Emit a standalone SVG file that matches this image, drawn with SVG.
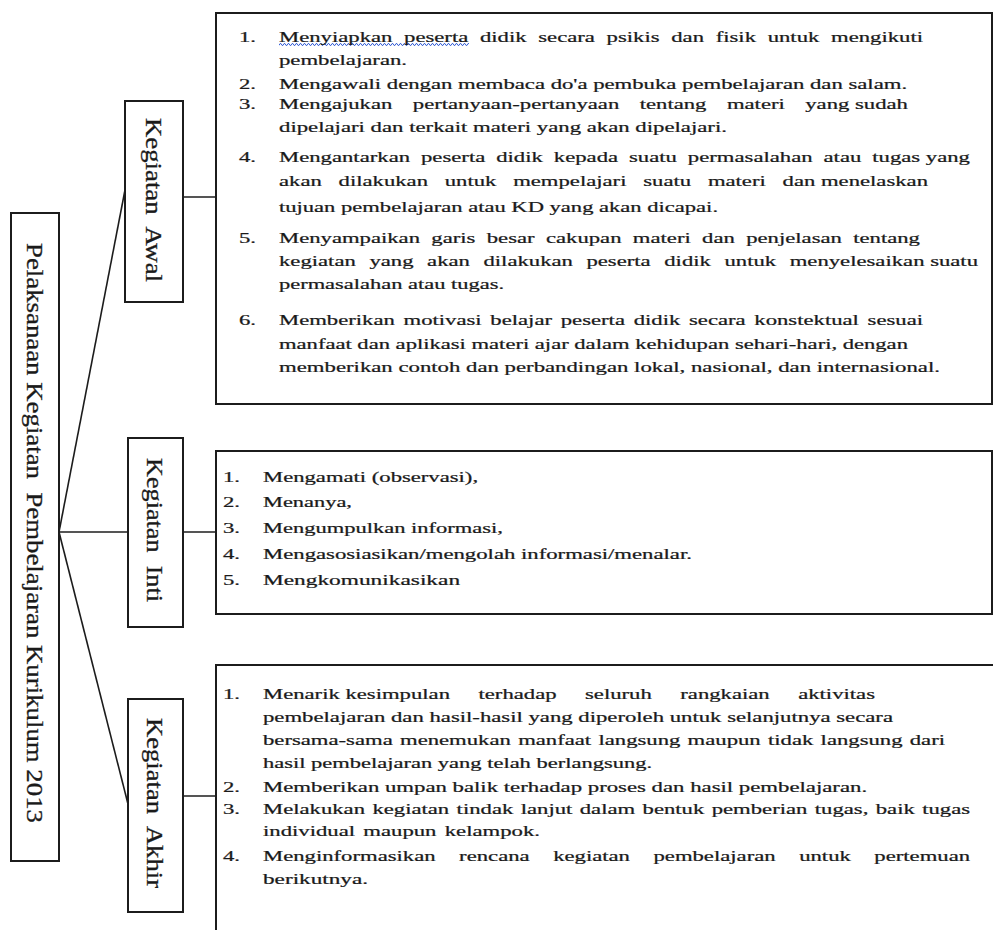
<svg xmlns="http://www.w3.org/2000/svg" width="993" height="930" viewBox="0 0 993 930">
<style>
.box{fill:#fff;stroke:#1c1c1c;stroke-width:2}
.ln{fill:none;stroke:#1c1c1c;stroke-width:1.6}
.t{font-family:"Liberation Serif","Times New Roman",serif;font-size:15.5px;fill:#1a1a1a;stroke:#1a1a1a;stroke-width:0.25}
.r{font-family:"Liberation Serif","Times New Roman",serif;font-size:24px;fill:#1a1a1a;stroke:#1a1a1a;stroke-width:0.3}
</style>
<defs>
<pattern id="wavy" x="279" y="43" width="4" height="3" patternUnits="userSpaceOnUse">
<path d="M0,2.4 L1,0.6 L2,0.6 L3,2.4 L4,2.4" fill="none" stroke="#3a62d6" stroke-width="1"/>
</pattern>
</defs>
<rect width="993" height="930" fill="#fff"/>

<g id="connectors">
<line class="ln" x1="59" y1="532" x2="125" y2="190"/>
<line class="ln" x1="59" y1="532" x2="128" y2="532"/>
<line class="ln" x1="59" y1="532" x2="128" y2="804"/>
<line class="ln" x1="183" y1="197" x2="216" y2="197"/>
<line class="ln" x1="183" y1="532" x2="216" y2="532"/>
<line class="ln" x1="183" y1="796" x2="216" y2="796"/>
</g>

<g id="node-main">
<rect class="box" x="11" y="213" width="48" height="648"/>
<text class="r" xml:space="preserve" transform="translate(27,533) rotate(90)" text-anchor="middle" textLength="580" lengthAdjust="spacingAndGlyphs">Pelaksanaan Kegiatan  Pembelajaran Kurikulum 2013</text>
</g>

<g id="node-awal">
<rect class="box" x="125" y="101" width="58" height="201"/>
<text class="r" xml:space="preserve" transform="translate(146,200) rotate(90)" text-anchor="middle" textLength="164" lengthAdjust="spacingAndGlyphs">Kegiatan  Awal</text>
</g>

<g id="node-inti">
<rect class="box" x="128" y="438" width="55" height="189"/>
<text class="r" xml:space="preserve" transform="translate(147,530) rotate(90)" text-anchor="middle" textLength="144" lengthAdjust="spacingAndGlyphs">Kegiatan  Inti</text>
</g>

<g id="node-akhir">
<rect class="box" x="128" y="699" width="55" height="213"/>
<text class="r" xml:space="preserve" transform="translate(147,803) rotate(90)" text-anchor="middle" textLength="170" lengthAdjust="spacingAndGlyphs">Kegiatan  Akhir</text>
</g>

<g id="node-awal-text">
<rect class="box" x="216" y="13" width="776" height="391"/>
<rect x="279" y="43" width="190" height="3" fill="url(#wavy)"/>
<text class="t" transform="matrix(1.463 0 0 1 239 42)">1.</text>
<text class="t" transform="matrix(1.463 0 0 1 279 42)" textLength="440.2" lengthAdjust="spacingAndGlyphs" style="word-spacing:4.1px">Menyiapkan peserta didik secara psikis dan fisik untuk mengikuti</text>
<text class="t" transform="matrix(1.463 0 0 1 279 65)" textLength="87.5" lengthAdjust="spacingAndGlyphs">pembelajaran.</text>
<text class="t" transform="matrix(1.463 0 0 1 239 89)">2.</text>
<text class="t" transform="matrix(1.463 0 0 1 279 89)" textLength="429.3" lengthAdjust="spacingAndGlyphs">Mengawali dengan membaca do'a pembuka pembelajaran dan salam.</text>
<text class="t" transform="matrix(1.463 0 0 1 239 109)">3.</text>
<text class="t" transform="matrix(1.463 0 0 1 279 109)" textLength="429.9" lengthAdjust="spacingAndGlyphs" style="word-spacing:10.1px">Mengajukan pertanyaan-pertanyaan tentang materi <tspan style="word-spacing:0">yang sudah</tspan></text>
<text class="t" transform="matrix(1.463 0 0 1 279 132)" textLength="306.2" lengthAdjust="spacingAndGlyphs">dipelajari dan terkait materi yang akan dipelajari.</text>
<text class="t" transform="matrix(1.463 0 0 1 239 162)">4.</text>
<text class="t" transform="matrix(1.463 0 0 1 279 162)" textLength="472.3" lengthAdjust="spacingAndGlyphs" style="word-spacing:3.6px">Mengantarkan peserta didik kepada suatu permasalahan atau <tspan style="word-spacing:0">tugas yang</tspan></text>
<text class="t" transform="matrix(1.463 0 0 1 279 186)" textLength="443.6" lengthAdjust="spacingAndGlyphs" style="word-spacing:7.6px">akan dilakukan untuk mempelajari suatu materi <tspan style="word-spacing:0">dan menelaskan</tspan></text>
<text class="t" transform="matrix(1.463 0 0 1 279 212)" textLength="300.1" lengthAdjust="spacingAndGlyphs">tujuan pembelajaran atau KD yang akan dicapai.</text>
<text class="t" transform="matrix(1.463 0 0 1 239 243)">5.</text>
<text class="t" transform="matrix(1.463 0 0 1 279 243)" textLength="438.1" lengthAdjust="spacingAndGlyphs" style="word-spacing:3.9px">Menyampaikan garis besar cakupan materi dan penjelasan tentang</text>
<text class="t" transform="matrix(1.463 0 0 1 279 266)" textLength="477.8" lengthAdjust="spacingAndGlyphs" style="word-spacing:5.4px">kegiatan yang akan dilakukan peserta didik untuk <tspan style="word-spacing:0">menyelesaikan suatu</tspan></text>
<text class="t" transform="matrix(1.463 0 0 1 279 289)" textLength="153.8" lengthAdjust="spacingAndGlyphs">permasalahan atau tugas.</text>
<text class="t" transform="matrix(1.463 0 0 1 239 325)">6.</text>
<text class="t" transform="matrix(1.463 0 0 1 279 325)" textLength="440.2" lengthAdjust="spacingAndGlyphs" style="word-spacing:2.1px">Memberikan motivasi belajar peserta didik secara konstektual sesuai</text>
<text class="t" transform="matrix(1.463 0 0 1 279 349)" textLength="429.9" lengthAdjust="spacingAndGlyphs">manfaat dan aplikasi materi ajar dalam kehidupan sehari-hari, dengan</text>
<text class="t" transform="matrix(1.463 0 0 1 279 372)" textLength="451.8" lengthAdjust="spacingAndGlyphs">memberikan contoh dan perbandingan lokal, nasional, dan internasional.</text>
</g>

<g id="node-inti-text">
<rect class="box" x="216" y="451" width="776" height="163"/>
<text class="t" transform="matrix(1.463 0 0 1 223 482)">1.</text>
<text class="t" transform="matrix(1.463 0 0 1 263 482)" textLength="147" lengthAdjust="spacingAndGlyphs">Mengamati (observasi),</text>
<text class="t" transform="matrix(1.463 0 0 1 223 507)">2.</text>
<text class="t" transform="matrix(1.463 0 0 1 263 507)" textLength="60.8" lengthAdjust="spacingAndGlyphs">Menanya,</text>
<text class="t" transform="matrix(1.463 0 0 1 223 533)">3.</text>
<text class="t" transform="matrix(1.463 0 0 1 263 533)" textLength="164" lengthAdjust="spacingAndGlyphs">Mengumpulkan informasi,</text>
<text class="t" transform="matrix(1.463 0 0 1 223 559)">4.</text>
<text class="t" transform="matrix(1.463 0 0 1 263 559)" textLength="293.2" lengthAdjust="spacingAndGlyphs">Mengasosiasikan/mengolah informasi/menalar.</text>
<text class="t" transform="matrix(1.463 0 0 1 223 585)">5.</text>
<text class="t" transform="matrix(1.463 0 0 1 263 585)" textLength="134.7" lengthAdjust="spacingAndGlyphs">Mengkomunikasikan</text>
</g>

<g id="node-akhir-text">
<rect class="box" x="216" y="665" width="800" height="300"/>
<text class="t" transform="matrix(1.463 0 0 1 223 699)">1.</text>
<text class="t" transform="matrix(1.463 0 0 1 263 699)" textLength="418.3" lengthAdjust="spacingAndGlyphs" style="word-spacing:15.6px"><tspan style="word-spacing:0">Menarik kesimpulan</tspan> terhadap seluruh rangkaian aktivitas</text>
<text class="t" transform="matrix(1.463 0 0 1 263 722)" textLength="430.6" lengthAdjust="spacingAndGlyphs">pembelajaran dan hasil-hasil yang diperoleh untuk selanjutnya secara</text>
<text class="t" transform="matrix(1.463 0 0 1 263 745)" textLength="466.2" lengthAdjust="spacingAndGlyphs" style="word-spacing:1.1px">bersama-sama menemukan manfaat langsung maupun tidak langsung dari</text>
<text class="t" transform="matrix(1.463 0 0 1 263 768)" textLength="265.9" lengthAdjust="spacingAndGlyphs">hasil pembelajaran yang telah berlangsung.</text>
<text class="t" transform="matrix(1.463 0 0 1 223 792)">2.</text>
<text class="t" transform="matrix(1.463 0 0 1 263 792)" textLength="412.9" lengthAdjust="spacingAndGlyphs">Memberikan umpan balik terhadap proses dan hasil pembelajaran.</text>
<text class="t" transform="matrix(1.463 0 0 1 223 814)">3.</text>
<text class="t" transform="matrix(1.463 0 0 1 263 814)" textLength="483.3" lengthAdjust="spacingAndGlyphs" style="word-spacing:1.2px">Melakukan kegiatan tindak lanjut dalam bentuk pemberian tugas, baik tugas</text>
<text class="t" transform="matrix(1.463 0 0 1 263 836)" textLength="189.3" lengthAdjust="spacingAndGlyphs" style="word-spacing:1.8px">individual maupun kelampok.</text>
<text class="t" transform="matrix(1.463 0 0 1 223 861)">4.</text>
<text class="t" transform="matrix(1.463 0 0 1 263 861)" textLength="483.3" lengthAdjust="spacingAndGlyphs" style="word-spacing:12.2px">Menginformasikan rencana kegiatan pembelajaran untuk pertemuan</text>
<text class="t" transform="matrix(1.463 0 0 1 263 884)" textLength="71.8" lengthAdjust="spacingAndGlyphs">berikutnya.</text>
</g>
</svg>
